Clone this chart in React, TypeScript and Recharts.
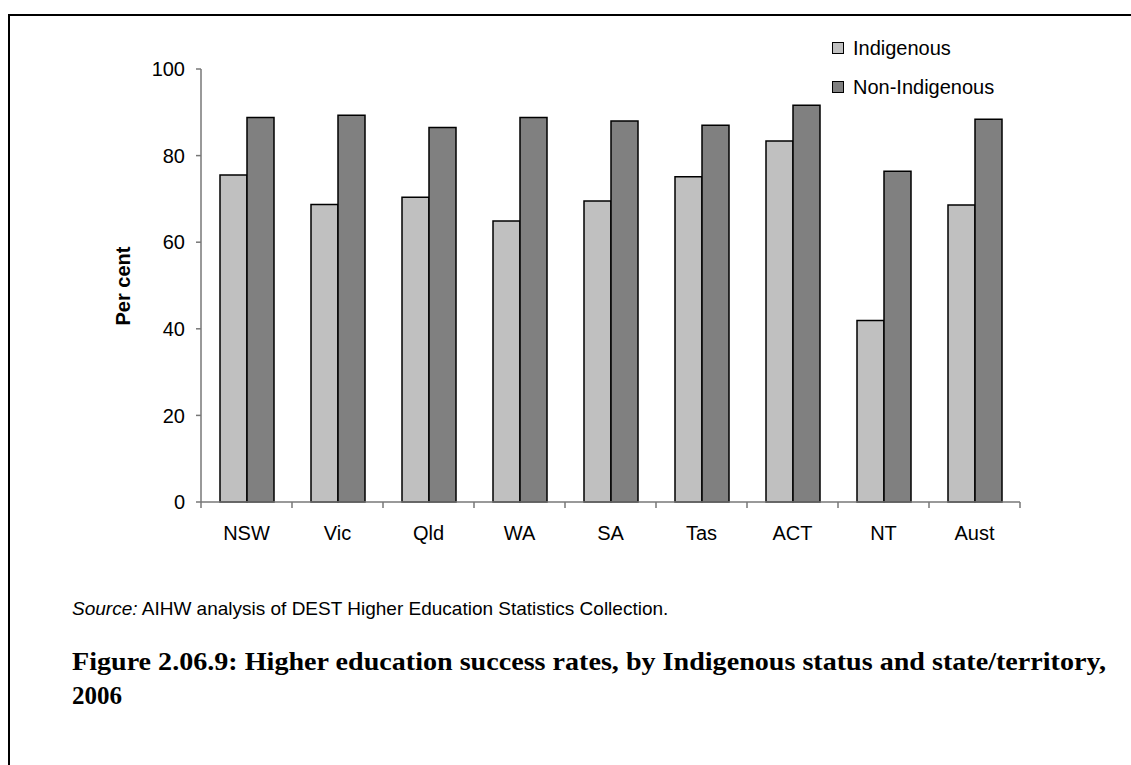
import React from 'react';
import { BarChart, Bar, XAxis, YAxis } from 'recharts';

const states = ['NSW', 'Vic', 'Qld', 'WA', 'SA', 'Tas', 'ACT', 'NT', 'Aust'];
const indigenous = [75.5, 68.7, 70.4, 64.9, 69.5, 75.1, 83.4, 41.9, 68.6];
const nonIndigenous = [88.8, 89.3, 86.5, 88.8, 88.0, 87.0, 91.6, 76.4, 88.4];
const yTicks = [0, 20, 40, 60, 80, 100];

const data = states.map((state, i) => ({
  state,
  indigenous: indigenous[i],
  nonIndigenous: nonIndigenous[i],
}));

const sans = '"Liberation Sans", Arial, sans-serif';
const serif = '"Liberation Serif", "Times New Roman", serif';

// plot box, in page pixels
const plotLeft = 201;
const plotRight = 1020;
const plotTop = 69;
const plotBottom = 502;
const band = (plotRight - plotLeft) / states.length;

function CategoryTick(props: any) {
  const { x, y, payload, index } = props;
  const left = x - band / 2;
  return (
    <g>
      <line x1={left} x2={left} y1={y} y2={y + 6} stroke="#777" strokeWidth={1.5} />
      {index === states.length - 1 && (
        <line x1={x + band / 2} x2={x + band / 2} y1={y} y2={y + 6} stroke="#777" strokeWidth={1.5} />
      )}
      <text x={x} y={y + 38} textAnchor="middle" fontSize={20} fontFamily={sans} fill="#000">
        {payload.value}
      </text>
    </g>
  );
}

export default function App() {
  const yAxisWidth = 60;
  const xAxisHeight = 30;
  return (
    <div style={{ position: 'absolute', left: 0, top: 0, width: 1131, height: 765, background: '#fff', overflow: 'hidden' }}>
      <div
        style={{
          position: 'absolute',
          left: 8,
          top: 14,
          width: 1200,
          height: 800,
          borderLeft: '2px solid #000',
          borderTop: '2px solid #000',
        }}
      />
      <div style={{ position: 'absolute', left: 0, top: 0 }}>
        <BarChart
          width={1131}
          height={765}
          data={data}
          barGap={0}
          barSize={27}
          margin={{
            left: plotLeft - yAxisWidth,
            top: plotTop,
            right: 1131 - plotRight,
            bottom: 765 - plotBottom - xAxisHeight,
          }}
        >
          <XAxis
            dataKey="state"
            height={xAxisHeight}
            tickLine={false}
            tickSize={0}
            tickMargin={0}
            interval={0}
            axisLine={{ stroke: '#777', strokeWidth: 1.5 }}
            tick={<CategoryTick />}
          />
          <YAxis
            width={yAxisWidth}
            domain={[0, 100]}
            ticks={yTicks}
            interval={0}
            tickSize={5}
            tickMargin={11}
            axisLine={{ stroke: '#777', strokeWidth: 1.5 }}
            tickLine={{ stroke: '#777', strokeWidth: 1.5 }}
            tick={{ fill: '#000', fontSize: 20, fontFamily: sans }}
          />
          <Bar dataKey="indigenous" fill="#C0C0C0" stroke="#000" strokeWidth={1.5} isAnimationActive={false} />
          <Bar dataKey="nonIndigenous" fill="#808080" stroke="#000" strokeWidth={1.5} isAnimationActive={false} />
        </BarChart>
      </div>

      {/* y axis title */}
      <div
        style={{
          position: 'absolute',
          left: 123,
          top: 286,
          transform: 'translate(-50%, -50%) rotate(-90deg)',
          fontFamily: sans,
          fontWeight: 'bold',
          fontSize: 20,
          whiteSpace: 'nowrap',
        }}
      >
        Per cent
      </div>

      {/* legend */}
      {[
        { name: 'Indigenous', color: '#C0C0C0', y: 48 },
        { name: 'Non-Indigenous', color: '#808080', y: 87 },
      ].map((item) => (
        <div key={item.name} style={{ position: 'absolute', left: 832, top: item.y - 12, height: 24, display: 'flex', alignItems: 'center' }}>
          <div style={{ width: 10, height: 10, background: item.color, border: '1px solid #000' }} />
          <span style={{ marginLeft: 9, fontFamily: sans, fontSize: 20, lineHeight: '24px' }}>{item.name}</span>
        </div>
      ))}

      <svg width={1131} height={765} style={{ position: 'absolute', left: 0, top: 0, pointerEvents: 'none' }}>
        <text x={72} y={615} fontFamily={sans} fontSize={19} fill="#000">
          <tspan fontStyle="italic">Source:</tspan> AIHW analysis of DEST Higher Education Statistics Collection.
        </text>
        <text x={72} y={670} fontFamily={serif} fontWeight="bold" fontSize={25} fill="#000" textLength={1034} lengthAdjust="spacingAndGlyphs">
          Figure 2.06.9: Higher education success rates, by Indigenous status and state/territory,
        </text>
        <text x={72} y={704} fontFamily={serif} fontWeight="bold" fontSize={25} fill="#000">
          2006
        </text>
      </svg>
    </div>
  );
}
